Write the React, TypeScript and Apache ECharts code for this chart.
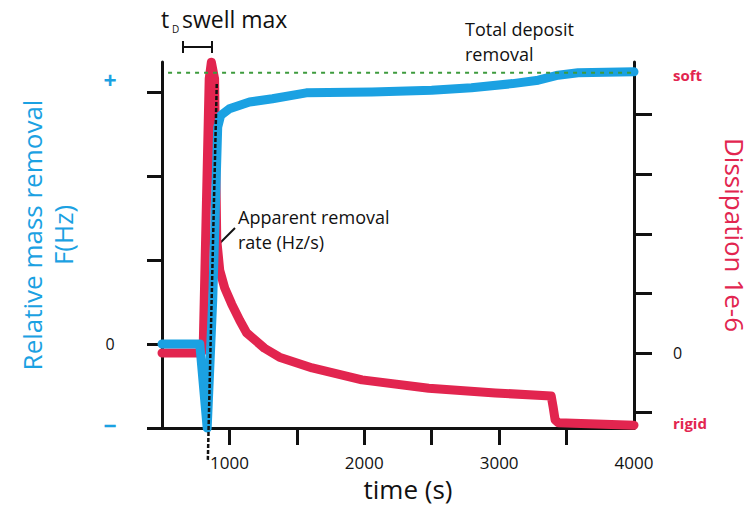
import React, { useEffect, useRef } from 'react';
import * as echarts from 'echarts';

const BLUE = '#1ba1e2';
const RED = '#e2254f';
const GREEN = '#3d9b3d';
const INK = '#111111';
const FONT = '"Open Sans", "Noto Sans", sans-serif';

// time axis (s)
const xTickValues = [1000, 1500, 2000, 2500, 3000, 3500];
const xLabelValues = [1000, 2000, 3000, 4000];

// frequency shift (relative mass removal), left axis
const blueTime = [500, 780, 835, 876, 913, 935, 1000, 1149, 1319, 1570, 2057, 2500, 2795, 3100, 3290, 3437, 3585, 4000];
const blueFreq = [0, 0, -1, 0.52, 2.58, 2.72, 2.8, 2.88, 2.92, 2.99, 3.0, 3.02, 3.05, 3.1, 3.14, 3.2, 3.23, 3.24];

// dissipation, right axis
const redTime = [500, 790, 805, 850, 866, 890, 906, 928, 965, 1017, 1076, 1127, 1260, 1371, 1614, 1983, 2478, 2972, 3386, 3400, 3415, 3440, 4000];
const redDiss = [0, 0, 0.05, 4.6, 4.88, 4.6, 1.9, 1.39, 1.09, 0.82, 0.55, 0.34, 0.08, -0.07, -0.25, -0.45, -0.59, -0.67, -0.72, -0.9, -1.12, -1.17, -1.21];

// annotation lines (data coordinates)
const totalRemovalLevel = 3.23;
const totalRemovalStart = 545;
const rateLineTime = [906, 840];
const rateLineFreq = [3.095, -1.38];

// axis tick / label positions
const leftTicks = [-1, 0, 1, 2, 3];
const leftLabels = [-0.96, 0, 3.14];
const rightTicks = [-1, 0, 1, 2, 3, 4];
const rightLabels = [-1.17, 0, 4.66];

const option: any = {
  animation: false,
  textStyle: { fontFamily: FONT },
  grid: { left: 162, right: 120, top: 62, bottom: 79, containLabel: false },
  xAxis: {
    type: 'value',
    min: 500,
    max: 4000,
    interval: 500,
    splitLine: { show: false },
    axisLine: { onZero: false, lineStyle: { color: INK, width: 3 } },
    axisTick: { show: true, length: 17, lineStyle: { color: INK, width: 3 }, customValues: xTickValues },
    axisLabel: {
      margin: 26,
      fontSize: 17,
      color: INK,
      fontFamily: FONT,
      customValues: xLabelValues,
      formatter: (v: number) => String(v),
    },
  },
  yAxis: [
    {
      type: 'value',
      position: 'left',
      min: -1,
      max: 3.357,
      splitLine: { show: false },
      axisLine: { show: true, onZero: false, lineStyle: { color: INK, width: 3 } },
      axisTick: { show: true, length: 15, lineStyle: { color: INK, width: 3 }, customValues: leftTicks },
      axisLabel: {
        margin: 44,
        customValues: leftLabels,
        formatter: (v: number) => (Math.abs(v) < 0.01 ? '{k|0}' : v > 1 ? '{b|+}' : '{b|\u2212}'),
        rich: {
          k: { color: INK, fontSize: 16, width: 16, align: 'center', fontFamily: FONT },
          b: { color: BLUE, fontSize: 23, fontWeight: 'bold', width: 16, align: 'center', fontFamily: FONT },
        },
      },
    },
    {
      type: 'value',
      position: 'right',
      min: -1.258,
      max: 4.883,
      splitLine: { show: false },
      axisLine: { show: true, onZero: false, lineStyle: { color: INK, width: 3 } },
      axisTick: { show: true, length: 18, lineStyle: { color: INK, width: 3 }, customValues: rightTicks },
      axisLabel: {
        margin: 39,
        customValues: rightLabels,
        formatter: (v: number) => (Math.abs(v) < 0.01 ? '{k|0}' : v > 1 ? '{r|soft}' : '{r|rigid}'),
        rich: {
          k: { color: INK, fontSize: 16, fontFamily: FONT },
          r: { color: RED, fontSize: 15, fontWeight: 'bold', fontFamily: FONT },
        },
      },
    },
  ],
  series: [
    {
      name: 'Dissipation',
      type: 'line',
      yAxisIndex: 1,
      data: redTime.map((t, i) => [t, redDiss[i]]),
      showSymbol: false,
      symbol: 'none',
      clip: false,
      z: 2,
      lineStyle: { color: RED, width: 9, cap: 'round', join: 'round' },
    },
    {
      name: 'Frequency',
      type: 'line',
      yAxisIndex: 0,
      data: blueTime.map((t, i) => [t, blueFreq[i]]),
      showSymbol: false,
      symbol: 'none',
      clip: false,
      z: 3,
      lineStyle: { color: BLUE, width: 9, cap: 'round', join: 'round' },
    },
    {
      name: 'Total deposit removal',
      type: 'line',
      yAxisIndex: 0,
      data: [[totalRemovalStart, totalRemovalLevel], [4000, totalRemovalLevel]],
      showSymbol: false,
      symbol: 'none',
      clip: false,
      z: 4,
      lineStyle: { color: GREEN, width: 2, type: [4, 5] },
    },
    {
      name: 'Apparent removal rate',
      type: 'line',
      yAxisIndex: 0,
      data: rateLineTime.map((t, i) => [t, rateLineFreq[i]]),
      showSymbol: false,
      symbol: 'none',
      clip: false,
      z: 5,
      lineStyle: { color: INK, width: 2.5, type: [4, 2] },
    },
  ],
  graphic: [
    {
      type: 'text',
      x: 47,
      y: 235,
      rotation: Math.PI / 2,
      style: {
        text: 'Relative mass removal\nF(Hz)',
        fill: BLUE,
        fontSize: 26,
        fontFamily: FONT,
        lineHeight: 31,
        align: 'center',
        verticalAlign: 'middle',
      },
    },
    {
      type: 'text',
      x: 735,
      y: 235,
      rotation: -Math.PI / 2,
      style: {
        text: 'Dissipation 1e-6',
        fill: RED,
        fontSize: 26,
        fontFamily: FONT,
        align: 'center',
        verticalAlign: 'middle',
      },
    },
    {
      type: 'text',
      x: 408,
      y: 489,
      style: { text: 'time (s)', fill: INK, fontSize: 26, fontFamily: FONT, align: 'center', verticalAlign: 'middle' },
    },
    {
      type: 'text',
      x: 161,
      y: 19,
      style: { text: 't', fill: INK, fontSize: 23, fontFamily: FONT, align: 'left', verticalAlign: 'middle' },
    },
    {
      type: 'text',
      x: 172,
      y: 29,
      style: { text: 'D', fill: INK, fontSize: 10, fontFamily: FONT, align: 'left', verticalAlign: 'middle' },
    },
    {
      type: 'text',
      x: 182,
      y: 19,
      style: { text: 'swell max', fill: INK, fontSize: 23, fontFamily: FONT, align: 'left', verticalAlign: 'middle' },
    },
    { type: 'line', shape: { x1: 183, y1: 47, x2: 212, y2: 47 }, style: { stroke: INK, lineWidth: 2 } },
    { type: 'line', shape: { x1: 183, y1: 41, x2: 183, y2: 53 }, style: { stroke: INK, lineWidth: 2 } },
    { type: 'line', shape: { x1: 212, y1: 41, x2: 212, y2: 53 }, style: { stroke: INK, lineWidth: 2 } },
    {
      type: 'text',
      x: 465,
      y: 29,
      style: { text: 'Total deposit', fill: INK, fontSize: 18, fontFamily: FONT, align: 'left', verticalAlign: 'middle' },
    },
    {
      type: 'text',
      x: 465,
      y: 54,
      style: { text: 'removal', fill: INK, fontSize: 18, fontFamily: FONT, align: 'left', verticalAlign: 'middle' },
    },
    {
      type: 'text',
      x: 238,
      y: 217,
      style: { text: 'Apparent removal', fill: INK, fontSize: 18, fontFamily: FONT, align: 'left', verticalAlign: 'middle' },
    },
    {
      type: 'text',
      x: 238,
      y: 242,
      style: { text: 'rate (Hz/s)', fill: INK, fontSize: 18, fontFamily: FONT, align: 'left', verticalAlign: 'middle' },
    },
    { type: 'line', shape: { x1: 235, y1: 228, x2: 218, y2: 245 }, style: { stroke: INK, lineWidth: 2 } },
  ],
};

export default function App() {
  const ref = useRef<HTMLDivElement>(null);
  useEffect(() => {
    const chart = echarts.init(ref.current as HTMLDivElement, null, { renderer: 'svg' });
    chart.setOption(option);
    return () => chart.dispose();
  }, []);
  return (
    <div
      ref={ref}
      style={{ position: 'fixed', left: 0, top: 0, width: 754, height: 507, background: '#ffffff' }}
    />
  );
}
